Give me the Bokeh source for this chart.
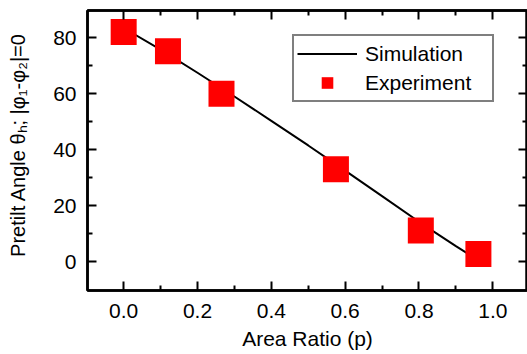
from bokeh.plotting import figure
from bokeh.models import (Range1d, LinearAxis, Legend, LegendItem,
                          FixedTicker, NumeralTickFormatter)
from bokeh.embed import file_html
from bokeh.resources import INLINE

# ---------------- data ----------------
exp_p = [0.0, 0.12, 0.265, 0.575, 0.805, 0.961]
exp_theta = [82.1, 75.2, 60.0, 33.0, 11.1, 2.7]

sim_p = [0.0, 0.1, 0.2, 0.3, 0.4, 0.5, 0.6, 0.7, 0.8, 0.9, 0.96]
sim_theta = [83.5, 75.8, 67.5, 59.0, 50.3, 41.5, 32.5, 23.4, 14.2, 5.5, 0.5]

x_major = [0.0, 0.2, 0.4, 0.6, 0.8, 1.0]
x_minor = [0.1, 0.3, 0.5, 0.7, 0.9]
y_major = [0, 20, 40, 60, 80]
y_minor = [10, 30, 50, 70]

x_label = "Area Ratio (p)"
y_label = "Pretilt Angle θₕ; |φ₁-φ₂|=0"

X0, X1 = -0.098, 1.094
Y0, Y1 = -10.37, 89.76

FONT = "Liberation Sans"
FS = 21

p = figure(frame_width=440, frame_height=280, title=None,
           x_range=Range1d(X0, X1), y_range=Range1d(Y0, Y1),
           output_backend="svg", toolbar_location=None,
           min_border_left=87, min_border_right=0,
           min_border_top=10, min_border_bottom=64,
           background_fill_color="white", border_fill_color="white")

p.xgrid.visible = False
p.ygrid.visible = False
p.outline_line_color = "black"
p.outline_line_width = 2.5


def style_axis(ax, ticks, minor, show_labels, standoff):
    ax.ticker = FixedTicker(ticks=ticks, minor_ticks=minor)
    ax.axis_line_color = "black"
    ax.axis_line_width = 2.5
    ax.major_tick_in = 9
    ax.major_tick_out = 0
    ax.minor_tick_in = 5
    ax.minor_tick_out = 0
    ax.major_tick_line_width = 2
    ax.minor_tick_line_width = 2
    ax.major_tick_line_color = "black"
    ax.minor_tick_line_color = "black"
    if show_labels:
        ax.major_label_text_font = FONT
        ax.major_label_text_font_size = f"{FS}px"
        ax.major_label_text_color = "black"
        ax.major_label_standoff = standoff
        ax.axis_label_text_font = FONT
        ax.axis_label_text_font_size = f"{FS}px"
        ax.axis_label_text_font_style = "normal"
        ax.axis_label_text_color = "black"
    else:
        ax.major_label_text_font_size = "0px"
        ax.major_label_text_color = None
        ax.major_label_standoff = 0


style_axis(p.xaxis[0], x_major, x_minor, True, 13)
style_axis(p.yaxis[0], y_major, y_minor, True, 11)
p.xaxis[0].formatter = NumeralTickFormatter(format="0.0")
p.xaxis[0].axis_label = x_label
p.xaxis[0].axis_label_standoff = 6
# leading no-break spaces shift the centred label towards the top, as in the original
p.yaxis[0].axis_label = "\u00a0" * 2 + y_label
p.yaxis[0].axis_label_text_font_size = "20px"
p.yaxis[0].axis_label_standoff = 21

top_ax = LinearAxis()
right_ax = LinearAxis()
style_axis(top_ax, x_major, x_minor, False, 0)
style_axis(right_ax, y_major, y_minor, False, 0)
p.add_layout(top_ax, "above")
p.add_layout(right_ax, "right")

# ---------------- glyphs ----------------
sim_r = p.line(sim_p, sim_theta, line_color="black", line_width=2)
exp_r = p.scatter(exp_p, exp_theta, marker="square", size=26,
                  fill_color="#ff0000", line_color="#ff0000", line_width=0)

legend = Legend(items=[LegendItem(label="Simulation", renderers=[sim_r]),
                       LegendItem(label="Experiment", renderers=[exp_r])],
                location=(205, 188), padding=3, spacing=0,
                glyph_width=60, glyph_height=29, label_height=29,
                label_width=124, label_standoff=8,
                label_text_font=FONT, label_text_font_size=f"{FS}px",
                label_text_color="black",
                border_line_color="black", border_line_width=2,
                background_fill_color="white", background_fill_alpha=1.0)
p.add_layout(legend)

open("out.html", "w").write(file_html(p, INLINE))
